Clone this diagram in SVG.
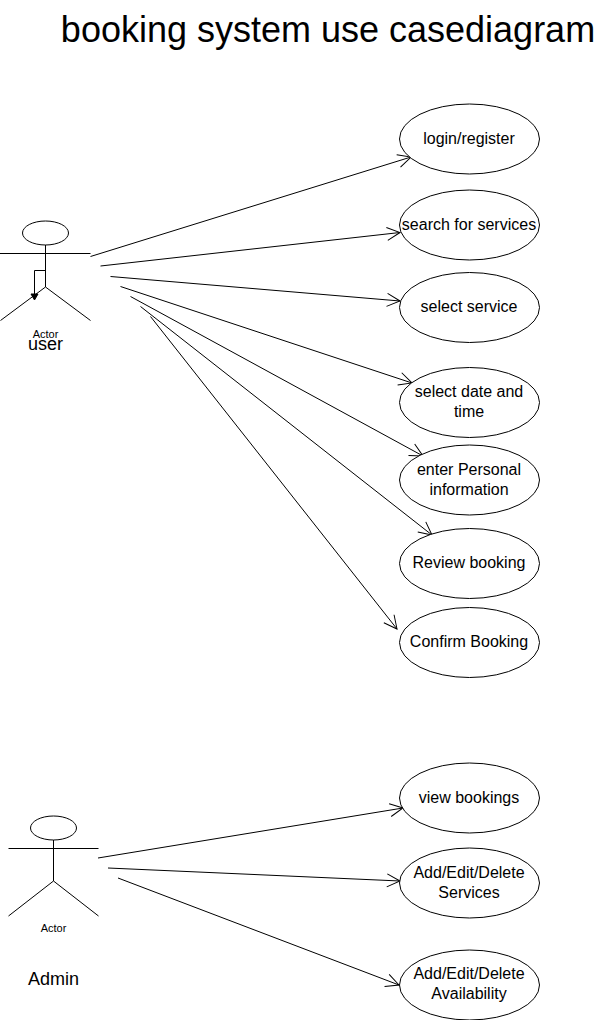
<svg xmlns="http://www.w3.org/2000/svg" width="605" height="1020" viewBox="0 0 605 1020">
<style>
text{font-family:"Liberation Sans",Arial,sans-serif;fill:#000;text-anchor:middle}
.u{font-size:16px}
.big{font-size:18px}
.e{fill:#fff;stroke:#000;stroke-width:1}
.l{fill:none;stroke:#000;stroke-width:1}
.c line{stroke:#000;stroke-width:1;marker-end:url(#o)}
</style>
<defs><marker id="o" markerUnits="userSpaceOnUse" markerWidth="20" markerHeight="16" refX="15" refY="8" orient="auto"><path d="M2 1.500L15 8L2 14.500" fill="none" stroke="#000"/></marker></defs>
<rect width="605" height="1020" fill="#fff"/>
<text id="title" x="328" y="42" style="font-size:36px">booking system use casediagram</text>
<g class="c" id="connectors">
<line x1="90.500" y1="256.500" x2="411" y2="157"/>
<line x1="100.500" y1="266" x2="400" y2="232.500"/>
<line x1="110.500" y1="276.500" x2="400" y2="301"/>
<line x1="120.500" y1="286.500" x2="412" y2="383"/>
<line x1="130.500" y1="296.500" x2="423" y2="456"/>
<line x1="140.500" y1="306.500" x2="432" y2="535"/>
<line x1="150.500" y1="316.500" x2="397" y2="629"/>
<line x1="98" y1="858" x2="403" y2="808"/>
<line x1="108" y1="868" x2="400" y2="881"/>
<line x1="118" y1="878" x2="399" y2="985"/>
</g>
<g id="actor-user"><ellipse class="e" cx="45.500" cy="233" rx="23" ry="12"/><path class="l" d="M45.500 245V287M0 253.500H90.500M45.500 287L0.500 320.500M45.500 287L90.500 320.500"/><path class="l" d="M45.500 270.500H34.500V296"/><path d="M31 294L34.500 300L38 294Z" fill="#000" stroke="#000"/><text x="45.500" y="338" style="font-size:11px">Actor</text><text class="big" x="45.500" y="350">user</text></g>
<g id="actor-admin"><ellipse class="e" cx="53.500" cy="828" rx="23" ry="12"/><path class="l" d="M53.500 840V881M8.500 848.500H98.500M53.500 881L8.500 916M53.500 881L98.500 916"/><text x="53.500" y="932" style="font-size:11px">Actor</text><text class="big" x="53.500" y="985">Admin</text></g>
<g id="n1"><ellipse class="e" cx="469.500" cy="139" rx="70" ry="35"/><text class="u" x="469" y="144">login/register</text></g>
<g id="n2"><ellipse class="e" cx="469.500" cy="225" rx="70" ry="35"/><text class="u" x="469" y="230">search for services</text></g>
<g id="n3"><ellipse class="e" cx="469.500" cy="307.500" rx="70" ry="35"/><text class="u" x="469" y="312">select service</text></g>
<g id="n4"><ellipse class="e" cx="469.500" cy="402.500" rx="70" ry="35"/><text class="u" x="469" y="397">select date and</text><text class="u" x="469" y="417">time</text></g>
<g id="n5"><ellipse class="e" cx="469.500" cy="480" rx="70" ry="35"/><text class="u" x="469" y="475">enter Personal</text><text class="u" x="469" y="495">information</text></g>
<g id="n6"><ellipse class="e" cx="469.500" cy="563.500" rx="70" ry="35"/><text class="u" x="469" y="568">Review booking</text></g>
<g id="n7"><ellipse class="e" cx="469.500" cy="642.500" rx="70" ry="35"/><text class="u" x="469" y="647">Confirm Booking</text></g>
<g id="n8"><ellipse class="e" cx="469.500" cy="798" rx="70" ry="35"/><text class="u" x="469" y="803">view bookings</text></g>
<g id="n9"><ellipse class="e" cx="469.500" cy="883" rx="70" ry="35"/><text class="u" x="469" y="878">Add/Edit/Delete</text><text class="u" x="469" y="898">Services</text></g>
<g id="n10"><ellipse class="e" cx="469.500" cy="985" rx="70" ry="35"/><text class="u" x="469" y="979">Add/Edit/Delete</text><text class="u" x="469" y="999">Availability</text></g>
</svg>
